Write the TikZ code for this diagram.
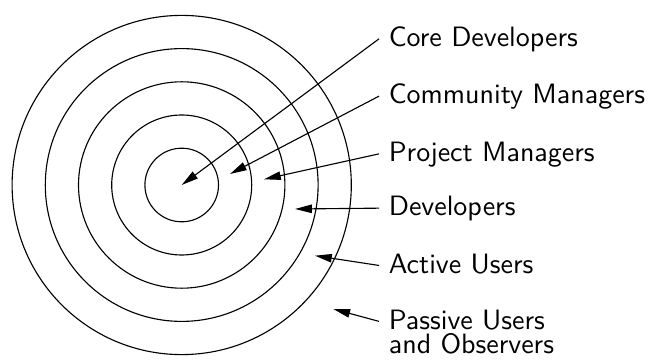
\documentclass[tikz,border=0pt]{standalone}
\usetikzlibrary{arrows.meta}
\begin{document}
\begin{tikzpicture}[x=0.35714pt,y=-0.35714pt,font=\sffamily,
  >={Triangle[length=6pt,width=3pt]},
  ring/.style={anchor=base west,inner sep=3.3pt,align=left}]
\useasboundingbox (0,0) rectangle (651,360);
\foreach \r in {36.8,70,103.2,136.4,169.6}{
\draw (181.7,185) circle (\r);
}
\node[ring] (core) at (379,46.7) {Core Developers};
\node[ring] (comm) at (379,104) {Community Managers};
\node[ring] (proj) at (379,161.7) {Project Managers};
\node[ring] (dev) at (379,216) {Developers};
\node[ring] (act) at (379,273.3) {Active Users};
\node[ring] (pass) at (379,353.3) {Passive Users\\[-3.4pt]and Observers};

\coordinate (core-t) at (181.7,185);
\coordinate (comm-t) at (230,174);
\coordinate (proj-t) at (264,179.3);
\coordinate (dev-t) at (295,209);
\coordinate (act-t) at (315,255.7);
\coordinate (pass-t) at (333.3,309);

\foreach \n/\s in {core/2.8,comm/2.8,proj/2.8,dev/2.8,act/2.8,pass/11.4}{
\draw[->] ([yshift=\s pt]\n.base west) -- (\n-t);
}
\end{tikzpicture}
\end{document}
